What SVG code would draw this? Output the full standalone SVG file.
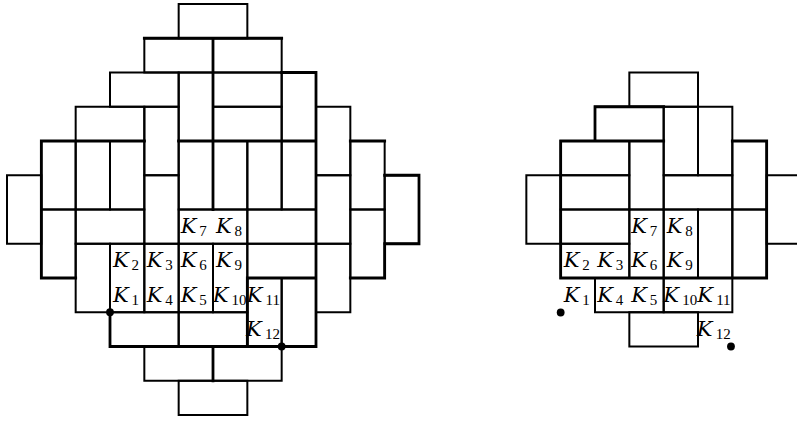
<svg xmlns="http://www.w3.org/2000/svg" width="797" height="421" viewBox="0 0 797 421">
<style>
.d{fill:none;stroke:#000;stroke-width:2}
.t{fill:none;stroke:#000;stroke-width:2.8;stroke-linecap:square}
.k{font-family:"DejaVu Serif",serif;font-style:italic;font-size:21px;fill:#000}
.s{font-family:"Liberation Serif",serif;font-style:normal;font-size:15px}
.dot{fill:#000}
</style>
<rect x="0" y="0" width="797" height="421" fill="#fff"/>
<defs>
<g id="labels">
<text class="k" x="180.7" y="233">K<tspan class="s" x="199.2" dy="3">7</tspan></text>
<text class="k" x="216" y="233">K<tspan class="s" x="234.5" dy="3">8</tspan></text>
<text class="k" x="113" y="267.25">K<tspan class="s" x="131.5" dy="3">2</tspan></text>
<text class="k" x="146.7" y="267.25">K<tspan class="s" x="165.2" dy="3">3</tspan></text>
<text class="k" x="180.7" y="267.25">K<tspan class="s" x="199.2" dy="3">6</tspan></text>
<text class="k" x="216" y="267.25">K<tspan class="s" x="234.5" dy="3">9</tspan></text>
<text class="k" x="113" y="301.5">K<tspan class="s" x="131.5" dy="3">1</tspan></text>
<text class="k" x="146.7" y="301.5">K<tspan class="s" x="165.2" dy="3">4</tspan></text>
<text class="k" x="180.7" y="301.5">K<tspan class="s" x="199.2" dy="3">5</tspan></text>
<text class="k" x="212.7" y="301.5">K<tspan class="s" x="231.6" dy="3">10</tspan></text>
<text class="k" x="246.7" y="301.5">K<tspan class="s" x="265.5" dy="3">11</tspan></text>
<text class="k" x="246" y="335.75">K<tspan class="s" x="265" dy="3">12</tspan></text>
</g>
</defs>

<g id="left-figure">
<g id="left-dominoes">
<rect id="L-h5-0" class="d" x="178.67" y="4" width="68.67" height="34.25"/>
<rect id="L-h4-1" class="d" x="144.33" y="38.25" width="68.67" height="34.25"/>
<rect id="L-h6-1" class="d" x="213" y="38.25" width="68.67" height="34.25"/>
<rect id="L-h3-2" class="d" x="110" y="72.5" width="68.67" height="34.25"/>
<rect id="L-v5-2" class="d" x="178.67" y="72.5" width="34.33" height="68.5"/>
<rect id="L-h6-2" class="d" x="213" y="72.5" width="68.67" height="34.25"/>
<rect id="L-v8-2" class="d" x="281.67" y="72.5" width="34.33" height="68.5"/>
<rect id="L-h2-3" class="d" x="75.67" y="106.75" width="68.67" height="34.25"/>
<rect id="L-v4-3" class="d" x="144.33" y="106.75" width="34.33" height="68.5"/>
<rect id="L-h6-3" class="d" x="213" y="106.75" width="68.67" height="34.25"/>
<rect id="L-v9-3" class="d" x="316" y="106.75" width="34.33" height="68.5"/>
<rect id="L-v1-4" class="d" x="41.33" y="141" width="34.33" height="68.5"/>
<rect id="L-v2-4" class="d" x="75.67" y="141" width="34.33" height="68.5"/>
<rect id="L-v3-4" class="d" x="110" y="141" width="34.33" height="68.5"/>
<rect id="L-v5-4" class="d" x="178.67" y="141" width="34.33" height="68.5"/>
<rect id="L-v6-4" class="d" x="213" y="141" width="34.33" height="68.5"/>
<rect id="L-v7-4" class="d" x="247.33" y="141" width="34.33" height="68.5"/>
<rect id="L-v8-4" class="d" x="281.67" y="141" width="34.33" height="68.5"/>
<rect id="L-v10-4" class="d" x="350.33" y="141" width="34.33" height="68.5"/>
<rect id="L-v0-5" class="d" x="7" y="175.25" width="34.33" height="68.5"/>
<rect id="L-v4-5" class="d" x="144.33" y="175.25" width="34.33" height="68.5"/>
<rect id="L-v9-5" class="d" x="316" y="175.25" width="34.33" height="68.5"/>
<rect id="L-v11-5" class="d" x="384.67" y="175.25" width="34.33" height="68.5"/>
<rect id="L-v1-6" class="d" x="41.33" y="209.5" width="34.33" height="68.5"/>
<rect id="L-h2-6" class="d" x="75.67" y="209.5" width="68.67" height="34.25"/>
<rect id="L-h5-6" class="d" x="178.67" y="209.5" width="68.67" height="34.25"/>
<rect id="L-h7-6" class="d" x="247.33" y="209.5" width="68.67" height="34.25"/>
<rect id="L-v10-6" class="d" x="350.33" y="209.5" width="34.33" height="68.5"/>
<rect id="L-v2-7" class="d" x="75.67" y="243.75" width="34.33" height="68.5"/>
<rect id="L-v3-7" class="d" x="110" y="243.75" width="34.33" height="68.5"/>
<rect id="L-v4-7" class="d" x="144.33" y="243.75" width="34.33" height="68.5"/>
<rect id="L-v5-7" class="d" x="178.67" y="243.75" width="34.33" height="68.5"/>
<rect id="L-v6-7" class="d" x="213" y="243.75" width="34.33" height="68.5"/>
<rect id="L-h7-7" class="d" x="247.33" y="243.75" width="68.67" height="34.25"/>
<rect id="L-v9-7" class="d" x="316" y="243.75" width="34.33" height="68.5"/>
<rect id="L-v7-8" class="d" x="247.33" y="278" width="34.33" height="68.5"/>
<rect id="L-v8-8" class="d" x="281.67" y="278" width="34.33" height="68.5"/>
<rect id="L-h3-9" class="d" x="110" y="312.25" width="68.67" height="34.25"/>
<rect id="L-h5-9" class="d" x="178.67" y="312.25" width="68.67" height="34.25"/>
<rect id="L-h4-10" class="d" x="144.33" y="346.5" width="68.67" height="34.25"/>
<rect id="L-h6-10" class="d" x="213" y="346.5" width="68.67" height="34.25"/>
<rect id="L-h5-11" class="d" x="178.67" y="380.75" width="68.67" height="34.25"/>
</g>
<g id="left-thick">
<path class="t" d="M144.33 38.25H281.67M281.67 72.5H316M41.33 141H144.33M178.67 141H316M350.33 141H384.67M384.67 175.25H419M384.67 243.75H419M41.33 278H75.67M247.33 278H316M350.33 278H384.67M110 346.5H316M213 38.25V209.5M213 346.5V380.75M316 72.5V346.5M419 175.25V243.75M384.67 243.75V278M41.33 141V278M110 312.25V346.5M247.33 278V346.5"/>
</g>
<use href="#labels"/>
<circle class="dot" cx="110" cy="312.25" r="3.9"/>
<circle class="dot" cx="281.67" cy="346.5" r="3.9"/>
</g>

<g id="right-figure" transform="translate(450.67,0)">
<g id="right-dominoes">
<rect id="R-h5-2" class="d" x="178.67" y="72.5" width="68.67" height="34.25"/>
<rect id="R-h4-3" class="d" x="144.33" y="106.75" width="68.67" height="34.25"/>
<rect id="R-v6-3" class="d" x="213" y="106.75" width="34.33" height="68.5"/>
<rect id="R-v7-3" class="d" x="247.33" y="106.75" width="34.33" height="68.5"/>
<rect id="R-h3-4" class="d" x="110" y="141" width="68.67" height="34.25"/>
<rect id="R-v5-4" class="d" x="178.67" y="141" width="34.33" height="68.5"/>
<rect id="R-v8-4" class="d" x="281.67" y="141" width="34.33" height="68.5"/>
<rect id="R-v2-5" class="d" x="75.67" y="175.25" width="34.33" height="68.5"/>
<rect id="R-h3-5" class="d" x="110" y="175.25" width="68.67" height="34.25"/>
<rect id="R-h6-5" class="d" x="213" y="175.25" width="68.67" height="34.25"/>
<rect id="R-v9-5" class="d" x="316" y="175.25" width="34.33" height="68.5"/>
<rect id="R-h3-6" class="d" x="110" y="209.5" width="68.67" height="34.25"/>
<rect id="R-v5-6" class="d" x="178.67" y="209.5" width="34.33" height="68.5"/>
<rect id="R-v6-6" class="d" x="213" y="209.5" width="34.33" height="68.5"/>
<rect id="R-v7-6" class="d" x="247.33" y="209.5" width="34.33" height="68.5"/>
<rect id="R-v8-6" class="d" x="281.67" y="209.5" width="34.33" height="68.5"/>
<rect id="R-h3-7" class="d" x="110" y="243.75" width="68.67" height="34.25"/>
<rect id="R-h4-8" class="d" x="144.33" y="278" width="68.67" height="34.25"/>
<rect id="R-h6-8" class="d" x="213" y="278" width="68.67" height="34.25"/>
<rect id="R-h5-9" class="d" x="178.67" y="312.25" width="68.67" height="34.25"/>
</g>
<g id="right-thick">
<path class="t" d="M144.33 106.75H213M144.33 106.75V141M110 141H213M281.67 141H316M316 141V278M110 141V278M110 278H316"/>
</g>
<use href="#labels"/>
<circle class="dot" cx="110" cy="312.5" r="3.9"/>
<circle class="dot" cx="280.3" cy="346.5" r="3.9"/>
</g>
</svg>
